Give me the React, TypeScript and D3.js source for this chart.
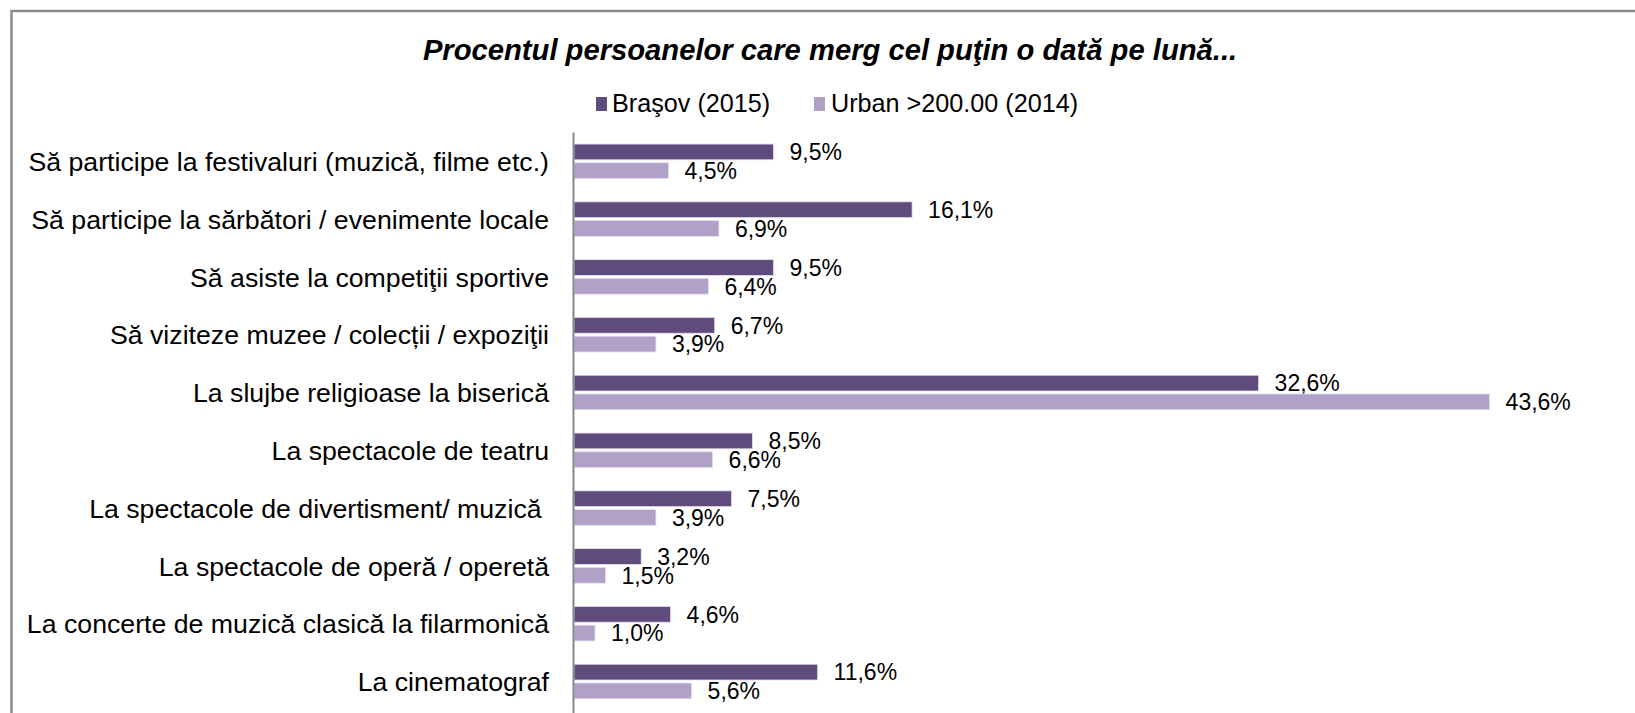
import * as d3 from 'd3';

const categories = [
  'Să participe la festivaluri (muzică, filme etc.)',
  'Să participe la sărbători / evenimente locale',
  'Să asiste la competiţii sportive',
  'Să viziteze muzee / colecții / expoziţii',
  'La slujbe religioase la biserică',
  'La spectacole de teatru',
  'La spectacole de divertisment/ muzică ',
  'La spectacole de operă / operetă',
  'La concerte de muzică clasică la filarmonică',
  'La cinematograf',
];

const seriesNames = ['Braşov (2015)', 'Urban >200.00 (2014)'];
const brasov = [9.5, 16.1, 9.5, 6.7, 32.6, 8.5, 7.5, 3.2, 4.6, 11.6];
const urban = [4.5, 6.9, 6.4, 3.9, 43.6, 6.6, 3.9, 1.5, 1.0, 5.6];

const title = 'Procentul persoanelor care merg cel puţin o dată pe lună...';

const colors = ['#604c7c', '#b1a0c7'];
const font = '"Liberation Sans", Arial, sans-serif';

const width = 1635;
const height = 713;

// Romanian number style: comma as decimal separator
const roLocale = d3.formatLocale({ decimal: ',', thousands: '.', grouping: [3], currency: ['', ' lei'] });
const fmt = (v: number) => roLocale.format('.1f')(v) + '%';

export default function App() {
  const x = d3.scaleLinear().domain([0, 45]).range([574, 574 + 45 * 21]);

  const y = d3
    .scaleBand()
    .domain(categories)
    .range([132.4, 132.4 + categories.length * 57.8])
    .paddingInner(0.403)
    .paddingOuter(0.2015);

  const ySub = d3
    .scaleBand()
    .domain(seriesNames)
    .range([0, y.bandwidth()])
    .paddingInner(0.16);

  const series = [brasov, urban];

  return (
    <svg
      width={width}
      height={height}
      style={{ position: 'absolute', left: 0, top: 0, background: '#fff' }}
      fontFamily={font}
    >
      {/* frame, cut off on the right and bottom */}
      <path d={`M11.5,${height} V11 H${width}`} fill="none" stroke="#8c8c8c" strokeWidth={2.5} />

      <text
        x={830}
        y={60}
        textAnchor="middle"
        fontSize={29.2}
        fontWeight="bold"
        fontStyle="italic"
        fill="#000"
      >
        {title}
      </text>

      {/* legend */}
      <g>
        <rect x={596} y={97} width={11} height={14} fill={colors[0]} />
        <text x={612} y={112} fontSize={25.2} fill="#000">
          {seriesNames[0]}
        </text>
        <rect x={814} y={97} width={11} height={14} fill={colors[1]} />
        <text x={831} y={112} fontSize={25.2} fill="#000">
          {seriesNames[1]}
        </text>
      </g>

      {/* bars */}
      {categories.map((cat, i) => (
        <g key={cat}>
          {series.map((vals, s) => {
            const by = (y(cat) ?? 0) + (ySub(seriesNames[s]) ?? 0);
            const bh = ySub.bandwidth();
            return (
              <g key={seriesNames[s]}>
                <rect
                  x={x(0)}
                  y={by}
                  width={x(vals[i]) - x(0)}
                  height={bh}
                  fill={colors[s]}
                  stroke="#e4ddee"
                  strokeWidth={0.8}
                />
                <text
                  x={x(vals[i]) + 16}
                  y={by + bh / 2}
                  dy="0.36em"
                  fontSize={23}
                  fill="#000"
                >
                  {fmt(vals[i])}
                </text>
              </g>
            );
          })}
          <text
            x={549}
            y={(y(cat) ?? 0) + y.bandwidth() / 2}
            dy="0.36em"
            textAnchor="end"
            fontSize={26.7}
            fill="#000"
            style={{ whiteSpace: 'pre' }}
          >
            {cat}
          </text>
        </g>
      ))}

      {/* category axis */}
      <line x1={573.5} x2={573.5} y1={132.5} y2={height} stroke="#868686" strokeWidth={2} />
    </svg>
  );
}
